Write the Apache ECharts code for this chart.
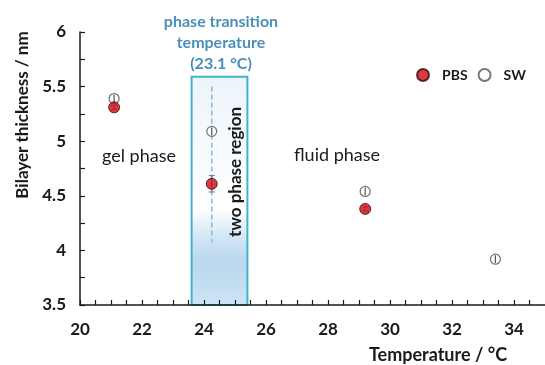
<!DOCTYPE html>
<html>
<head>
<meta charset="utf-8">
<script src="https://cdn.jsdelivr.net/npm/echarts@6/dist/echarts.min.js"></script>
<style>
  html, body { margin: 0; padding: 0; background: #fff; }
  #chart { width: 545px; height: 365px; }
</style>
</head>
<body>
<div id="chart"></div>
<script>
// Bilayer thickness vs temperature, PBS and SW
const pbsTemp = [21.1, 24.25, 29.2];
const pbsThick = [5.31, 4.61, 4.38];
const pbsErr = [0.02, 0.075, 0.02];

const swTemp = [21.1, 24.25, 29.2, 33.4];
const swThick = [5.39, 5.09, 4.54, 3.92];
const swErr = [0.035, 0.035, 0.035, 0.035];

// two phase region and the transition marker line
const regionTemp = [23.6, 25.4];
const regionTop = 5.59;
const transitionLineTemp = 24.25;
const transitionLineThick = [5.5, 4.07];

const xTickLabels = [20, 22, 24, 26, 28, 30, 32, 34];
const yTickLabels = [3.5, 4, 4.5, 5, 5.5, 6];

const FONT = 'Lato, "Open Sans", sans-serif';

function errRows(xs, ys, es) {
  return xs.map((x, i) => [x, ys[i] - es[i], ys[i] + es[i]]);
}

function errorBarSeries(name, rows, color, capHalf) {
  return {
    name: name,
    type: 'custom',
    silent: true,
    z: 4,
    data: rows,
    renderItem: function (params, api) {
      const lo = api.coord([api.value(0), api.value(1)]);
      const hi = api.coord([api.value(0), api.value(2)]);
      const st = { stroke: color, lineWidth: 1.2 };
      const children = [
        { type: 'line', shape: { x1: lo[0], y1: lo[1], x2: hi[0], y2: hi[1] }, style: st }
      ];
      if (capHalf > 0) {
        children.push({ type: 'line', shape: { x1: lo[0] - capHalf, y1: lo[1], x2: lo[0] + capHalf, y2: lo[1] }, style: st });
        children.push({ type: 'line', shape: { x1: hi[0] - capHalf, y1: hi[1], x2: hi[0] + capHalf, y2: hi[1] }, style: st });
      }
      return { type: 'group', children: children };
    }
  };
}

const chart = echarts.init(document.getElementById('chart'), null, { renderer: 'canvas' });

function label(text, pos, font, fill, rotation) {
  return {
    type: 'text',
    z: 100,
    position: pos,
    rotation: rotation || 0,
    style: { text: text, fill: fill, font: font, align: 'center', verticalAlign: 'middle' }
  };
}

const option = {
  animation: false,
  backgroundColor: '#ffffff',
  grid: { left: 80, top: 32, width: 469.5, height: 273, containLabel: false },
  xAxis: {
    type: 'value',
    min: 20,
    max: 35,
    interval: 0.5,
    z: 10,
    axisLine: { show: true, lineStyle: { color: '#1a1a1a', width: 1.5 } },
    axisTick: { show: true, inside: true, length: 5, lineStyle: { color: '#1a1a1a', width: 1.2 } },
    splitLine: { show: false },
    axisLabel: {
      margin: 16,
      fontFamily: FONT,
      fontWeight: 'bold',
      fontSize: 17,
      color: '#1a1a1a',
      showMaxLabel: false,
      formatter: v => (xTickLabels.indexOf(v) >= 0 ? String(v) : '')
    }
  },
  yAxis: {
    type: 'value',
    min: 3.5,
    max: 6,
    interval: 0.25,
    axisLine: { show: true, lineStyle: { color: '#1a1a1a', width: 1.5 } },
    axisTick: { show: true, inside: true, length: 5, lineStyle: { color: '#1a1a1a', width: 1.2 } },
    splitLine: { show: false },
    axisLabel: {
      margin: 14,
      fontFamily: FONT,
      fontWeight: 'bold',
      fontSize: 17,
      color: '#1a1a1a',
      formatter: v => (yTickLabels.indexOf(v) >= 0 ? String(v) : '')
    }
  },
  legend: {
    left: 411,
    top: 63,
    itemWidth: 12,
    itemHeight: 12,
    itemGap: 10,
    icon: 'circle',
    data: ['PBS', 'SW'],
    textStyle: { fontFamily: FONT, fontWeight: 'bold', fontSize: 14, color: '#1a1a1a', padding: [0, 0, 0, 8] }
  },
  graphic: [
    {
      type: 'text',
      z: 100,
      position: [221, 11],
      style: {
        text: 'phase transition\ntemperature\n(23.1 °C)',
        fill: '#4a8fba', font: 'bold 16px ' + FONT, align: 'center', lineHeight: 21
      }
    },
    label('gel phase', [139, 156], '18px ' + FONT, '#1a1a1a'),
    label('fluid phase', [337, 155], '18px ' + FONT, '#1a1a1a'),
    label('two phase region', [236, 172], 'bold 17px ' + FONT, '#1a1a1a', Math.PI / 2),
    label('Bilayer thickness / nm', [23, 115], 'bold 17px ' + FONT, '#1a1a1a', Math.PI / 2),
    label('Temperature / °C', [438, 355], 'bold 18px ' + FONT, '#1a1a1a')
  ],
  series: [
    {
      name: 'region',
      type: 'line',
      data: [],
      silent: true,
      z: 1,
      markArea: {
        silent: true,
        itemStyle: {
          borderColor: '#3fb3cf',
          borderWidth: 2,
          color: {
            type: 'linear', x: 0, y: 0, x2: 0, y2: 1,
            colorStops: [
              { offset: 0, color: '#ecf4fa' },
              { offset: 0.45, color: '#fbfdff' },
              { offset: 0.58, color: '#ffffff' },
              { offset: 0.7, color: '#d2e6f5' },
              { offset: 0.8, color: '#bad8ee' },
              { offset: 1, color: '#cce3f4' }
            ]
          }
        },
        data: [[{ coord: [regionTemp[0], regionTop] }, { coord: [regionTemp[1], 3.5] }]]
      }
    },
    {
      name: 'transition',
      type: 'line',
      silent: true,
      z: 2,
      symbol: 'none',
      lineStyle: { color: '#8dbbdf', width: 1.6, type: [5, 3] },
      data: transitionLineThick.map(y => [transitionLineTemp, y])
    },
    {
      name: 'SW',
      type: 'scatter',
      z: 3,
      symbol: 'circle',
      symbolSize: 10,
      itemStyle: { color: '#ffffff', borderColor: '#555555', borderWidth: 1.3 },
      data: swTemp.map((x, i) => [x, swThick[i]])
    },
    errorBarSeries('SW error', errRows(swTemp, swThick, swErr), '#555555', 0),
    errorBarSeries('PBS error', errRows(pbsTemp, pbsThick, pbsErr), '#6f86a3', 3),
    {
      name: 'PBS',
      type: 'scatter',
      z: 5,
      symbol: 'circle',
      symbolSize: 11,
      itemStyle: { color: '#d00a12', borderColor: '#3a0a0a', borderWidth: 1 },
      data: pbsTemp.map((x, i) => [x, pbsThick[i]])
    }
  ]
};

chart.setOption(option);
</script>
</body>
</html>
